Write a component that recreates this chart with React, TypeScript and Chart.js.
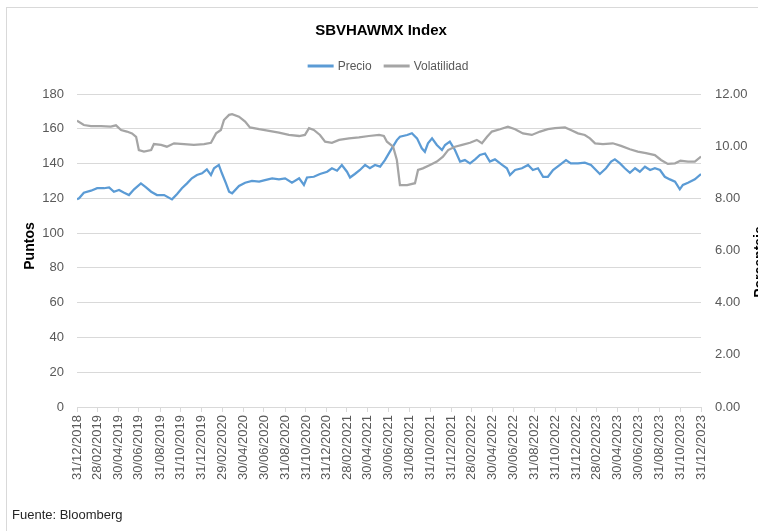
import React, { useEffect, useRef } from "react";
import { Chart, registerables } from "chart.js";

Chart.register(...registerables);

// ---------- DATA ----------
const titulo = "SBVHAWMX Index";
const serieNombres = ["Precio", "Volatilidad"];
const ejeIzqTitulo = "Puntos";
const ejeDerTitulo = "Porcentaje";
const fuente = "Fuente: Bloomberg";

const xTickLabels = [
  "31/12/2018", "28/02/2019", "30/04/2019", "30/06/2019", "31/08/2019", "31/10/2019",
  "31/12/2019", "29/02/2020", "30/04/2020", "30/06/2020", "31/08/2020", "31/10/2020",
  "31/12/2020", "28/02/2021", "30/04/2021", "30/06/2021", "31/08/2021", "31/10/2021",
  "31/12/2021", "28/02/2022", "30/04/2022", "30/06/2022", "31/08/2022", "31/10/2022",
  "31/12/2022", "28/02/2023", "30/04/2023", "30/06/2023", "31/08/2023", "31/10/2023",
  "31/12/2023",
];

const precioFechas = [
  "31/12/2018", "06/01/2019", "20/01/2019", "10/02/2019", "28/02/2019", "20/03/2019",
  "04/04/2019", "18/04/2019", "03/05/2019", "18/05/2019", "01/06/2019", "16/06/2019",
  "06/07/2019", "21/07/2019", "05/08/2019", "22/08/2019", "12/09/2019", "05/10/2019",
  "20/10/2019", "03/11/2019", "18/11/2019", "02/12/2019", "17/12/2019", "01/01/2020",
  "15/01/2020", "27/01/2020", "05/02/2020", "19/02/2020", "28/02/2020", "11/03/2020",
  "20/03/2020", "29/03/2020", "18/04/2020", "06/05/2020", "26/05/2020", "16/06/2020",
  "03/07/2020", "24/07/2020", "13/08/2020", "31/08/2020", "20/09/2020", "11/10/2020",
  "25/10/2020", "03/11/2020", "23/11/2020", "11/12/2020", "01/01/2021", "15/01/2021",
  "30/01/2021", "13/02/2021", "28/02/2021", "09/03/2021", "23/03/2021", "07/04/2021",
  "22/04/2021", "06/05/2021", "21/05/2021", "05/06/2021", "19/06/2021", "04/07/2021",
  "24/07/2021", "02/08/2021", "23/08/2021", "06/09/2021", "21/09/2021", "05/10/2021",
  "14/10/2021", "23/10/2021", "04/11/2021", "18/11/2021", "03/12/2021", "12/12/2021",
  "26/12/2021", "10/01/2022", "25/01/2022", "08/02/2022", "23/02/2022", "10/03/2022",
  "24/03/2022", "08/04/2022", "22/04/2022", "07/05/2022", "28/05/2022", "11/06/2022",
  "20/06/2022", "05/07/2022", "25/07/2022", "12/08/2022", "26/08/2022", "10/09/2022",
  "25/09/2022", "09/10/2022", "24/10/2022", "13/11/2022", "01/12/2022", "15/12/2022",
  "05/01/2023", "25/01/2023", "12/02/2023", "10/03/2023", "28/03/2023", "12/04/2023",
  "23/04/2023", "08/05/2023", "22/05/2023", "06/06/2023", "21/06/2023", "05/07/2023",
  "20/07/2023", "04/08/2023", "18/08/2023", "02/09/2023", "16/09/2023", "01/10/2023",
  "16/10/2023", "30/10/2023", "08/11/2023", "23/11/2023", "13/12/2023", "31/12/2023",
];

const precioValores = [
  119.5, 120.0, 123.2, 124.4, 125.8, 125.8,
  126.3, 123.8, 124.8, 123.2, 121.9, 125.2,
  128.6, 126.3, 123.8, 121.9, 121.9, 119.4,
  122.5, 125.8, 128.6, 131.5, 133.4, 134.4,
  136.7, 133.4, 137.3, 139.2, 134.4, 128.6,
  123.8, 122.9, 127.1, 129.0, 130.0, 129.6,
  130.5, 131.5, 130.9, 131.5, 129.0, 131.5,
  127.7, 132.0, 132.4, 134.0, 135.3, 137.3,
  135.9, 139.2, 135.3, 132.0, 134.0, 136.3,
  139.2, 137.3, 139.2, 138.2, 142.0, 147.0,
  153.5, 155.4, 156.4, 157.4, 154.5, 148.8,
  146.8, 151.6, 154.5, 150.7, 147.8, 150.7,
  152.6, 147.8, 141.1, 142.0, 140.1, 142.4,
  144.9, 145.8, 141.1, 142.4, 139.2, 137.3,
  133.4, 136.3, 137.3, 139.2, 136.3, 137.3,
  132.4, 132.4, 136.3, 139.2, 142.0, 140.1,
  140.1, 140.5, 139.2, 134.0, 137.3, 141.1,
  142.4, 140.1, 137.3, 134.7, 137.3, 135.3,
  138.2, 136.3, 137.3, 136.3, 132.4, 130.9,
  129.6, 125.2, 127.7, 129.0, 130.9, 134.0,
];

const volFechas = [
  "31/12/2018", "20/01/2019", "10/02/2019", "11/03/2019", "09/04/2019", "24/04/2019",
  "09/05/2019", "26/05/2019", "10/06/2019", "22/06/2019", "30/06/2019", "15/07/2019",
  "05/08/2019", "13/08/2019", "03/09/2019", "20/09/2019", "11/10/2019", "09/11/2019",
  "08/12/2019", "07/01/2020", "27/01/2020", "11/02/2020", "25/02/2020", "05/03/2020",
  "20/03/2020", "29/03/2020", "18/04/2020", "06/05/2020", "20/05/2020", "16/06/2020",
  "15/07/2020", "13/08/2020", "11/09/2020", "11/10/2020", "28/10/2020", "09/11/2020",
  "23/11/2020", "11/12/2020", "26/12/2020", "15/01/2021", "05/02/2021", "06/03/2021",
  "04/04/2021", "03/05/2021", "02/06/2021", "16/06/2021", "25/06/2021", "13/07/2021",
  "24/07/2021", "02/08/2021", "23/08/2021", "15/09/2021", "24/09/2021", "08/10/2021",
  "29/10/2021", "18/11/2021", "06/12/2021", "21/12/2021", "10/01/2022", "31/01/2022",
  "23/02/2022", "15/03/2022", "30/03/2022", "14/04/2022", "28/04/2022", "22/05/2022",
  "14/06/2022", "05/07/2022", "28/07/2022", "23/08/2022", "16/09/2022", "09/10/2022",
  "30/10/2022", "28/11/2022", "15/12/2022", "05/01/2023", "25/01/2023", "09/02/2023",
  "24/02/2023", "19/03/2023", "17/04/2023", "11/05/2023", "06/06/2023", "29/06/2023",
  "23/07/2023", "18/08/2023", "05/09/2023", "25/09/2023", "16/10/2023", "01/11/2023",
  "23/11/2023", "13/12/2023", "31/12/2023",
];

const volValores = [
  10.98, 10.81, 10.77, 10.77, 10.75, 10.80,
  10.62, 10.56, 10.49, 10.36, 9.85, 9.79,
  9.85, 10.08, 10.05, 9.98, 10.11, 10.08,
  10.05, 10.08, 10.13, 10.49, 10.62, 11.0,
  11.2, 11.23, 11.13, 10.94, 10.72, 10.65,
  10.59, 10.52, 10.43, 10.39, 10.43, 10.69,
  10.62, 10.43, 10.17, 10.13, 10.24, 10.30,
  10.34, 10.39, 10.43, 10.39, 10.17, 9.98,
  9.47, 8.51, 8.51, 8.58, 9.09, 9.15,
  9.28, 9.41, 9.60, 9.85, 9.98, 10.05,
  10.13, 10.24, 10.11, 10.36, 10.56, 10.65,
  10.75, 10.65, 10.49, 10.43, 10.56, 10.65,
  10.69, 10.72, 10.62, 10.49, 10.43, 10.30,
  10.11, 10.08, 10.11, 10.01, 9.88, 9.79,
  9.73, 9.66, 9.47, 9.32, 9.34, 9.44,
  9.41, 9.41, 9.60,
];

// ---------- HELPERS ----------
const W = 758;
const H = 531;
const FONT = "'Liberation Sans', Arial, sans-serif";

const toDay = (s: string) => {
  const [d, m, y] = s.split("/").map(Number);
  return (Date.UTC(y, m - 1, d) - Date.UTC(2018, 11, 31)) / 86400000;
};

const tickDays = xTickLabels.map(toDay);
const labelMap = new Map<number, string>();
xTickLabels.forEach((l, i) => labelMap.set(tickDays[i], l));

const decor = {
  id: "decor",
  afterDraw(chart: any) {
    const ctx: CanvasRenderingContext2D = chart.ctx;
    ctx.save();
    // Title
    ctx.fillStyle = "#000000";
    ctx.font = `bold 15px ${FONT}`;
    ctx.textAlign = "center";
    ctx.textBaseline = "middle";
    ctx.fillText(titulo, 381, 31);

    // Legend
    ctx.font = `12px ${FONT}`;
    const lineLen = 26;
    const gap = 4;
    const itemGap = 12;
    const ds = chart.data.datasets;
    const widths = ds.map((d: any) => lineLen + gap + ctx.measureText(d.label).width);
    const total = widths.reduce((a: number, b: number) => a + b, 0) + itemGap * (ds.length - 1);
    let x = 388 - total / 2;
    const ly = 66;
    ds.forEach((d: any, i: number) => {
      ctx.strokeStyle = d.borderColor;
      ctx.lineWidth = 3;
      ctx.beginPath();
      ctx.moveTo(x, ly);
      ctx.lineTo(x + lineLen, ly);
      ctx.stroke();
      ctx.fillStyle = "#595959";
      ctx.textAlign = "left";
      ctx.fillText(d.label, x + lineLen + gap, ly + 1);
      x += widths[i] + itemGap;
    });

    // Axis titles
    ctx.fillStyle = "#000000";
    ctx.font = `bold 14px ${FONT}`;
    ctx.textAlign = "center";
    ctx.save();
    ctx.translate(30, 246);
    ctx.rotate(-Math.PI / 2);
    ctx.fillText(ejeIzqTitulo, 0, 0);
    ctx.restore();
    ctx.save();
    ctx.translate(760, 262);
    ctx.rotate(-Math.PI / 2);
    ctx.fillText(ejeDerTitulo, 0, 0);
    ctx.restore();

    // Footnote
    ctx.font = `13px ${FONT}`;
    ctx.fillStyle = "#262626";
    ctx.textAlign = "left";
    ctx.fillText(fuente, 12, 515);
    ctx.restore();
  },
};

export default function App() {
  const ref = useRef<HTMLCanvasElement>(null);

  useEffect(() => {
    const canvas = ref.current!;
    const tickFont = { family: FONT, size: 13 };
    const tickColor = "#595959";
    const chart = new Chart(canvas, {
      type: "line",
      data: {
        datasets: [
          {
            label: serieNombres[0],
            data: precioFechas.map((f, i) => ({ x: toDay(f), y: precioValores[i] })),
            borderColor: "#5B9BD5",
            backgroundColor: "#5B9BD5",
            borderWidth: 2.25,
            pointRadius: 0,
            tension: 0,
            yAxisID: "y",
            order: 2,
          },
          {
            label: serieNombres[1],
            data: volFechas.map((f, i) => ({ x: toDay(f), y: volValores[i] })),
            borderColor: "#A5A5A5",
            backgroundColor: "#A5A5A5",
            borderWidth: 2.25,
            pointRadius: 0,
            tension: 0,
            yAxisID: "y1",
            order: 1,
          },
        ],
      },
      options: {
        responsive: false,
        animation: false,
        devicePixelRatio: 1,
        layout: { padding: { top: 94, left: 0, right: 0, bottom: 0 } },
        plugins: {
          legend: { display: false },
          title: { display: false },
          tooltip: { enabled: false },
        },
        scales: {
          x: {
            type: "linear",
            min: 0,
            max: toDay(xTickLabels[xTickLabels.length - 1]),
            afterBuildTicks: (axis: any) => {
              axis.ticks = tickDays.map((v) => ({ value: v }));
            },
            afterFit: (s: any) => {
              s.height = H - 407;
            },
            ticks: {
              autoSkip: false,
              maxRotation: 90,
              minRotation: 90,
              padding: 3,
              font: tickFont,
              color: tickColor,
              callback: (v: any) => labelMap.get(Number(v)) ?? "",
            },
            grid: {
              drawOnChartArea: false,
              drawTicks: true,
              tickLength: 5,
              color: "#d9d9d9",
            },
            border: { display: true, color: "#d9d9d9" },
          },
          y: {
            position: "left",
            min: 0,
            max: 180,
            afterFit: (s: any) => {
              s.width = 77;
            },
            ticks: { stepSize: 20, padding: 13, font: tickFont, color: tickColor },
            grid: { color: "#d9d9d9", drawTicks: false },
            border: { display: false },
          },
          y1: {
            position: "right",
            min: 0,
            max: 12,
            afterFit: (s: any) => {
              s.width = W - 701;
            },
            ticks: {
              stepSize: 2,
              padding: 14,
              font: tickFont,
              color: tickColor,
              callback: (v: any) => Number(v).toFixed(2),
            },
            grid: { drawOnChartArea: false, drawTicks: false },
            border: { display: false },
          },
        },
      },
      plugins: [decor],
    } as any);
    return () => chart.destroy();
  }, []);

  return (
    <div
      style={{
        position: "fixed",
        left: 0,
        top: 0,
        width: W,
        height: H,
        overflow: "hidden",
        background: "#ffffff",
      }}
    >
      <div
        style={{
          position: "absolute",
          left: 6,
          top: 7,
          width: 900,
          height: 900,
          border: "1px solid #d9d9d9",
          pointerEvents: "none",
        }}
      />
      <canvas
        ref={ref}
        width={W}
        height={H}
        style={{ position: "absolute", left: 0, top: 0, display: "block" }}
      />
    </div>
  );
}
